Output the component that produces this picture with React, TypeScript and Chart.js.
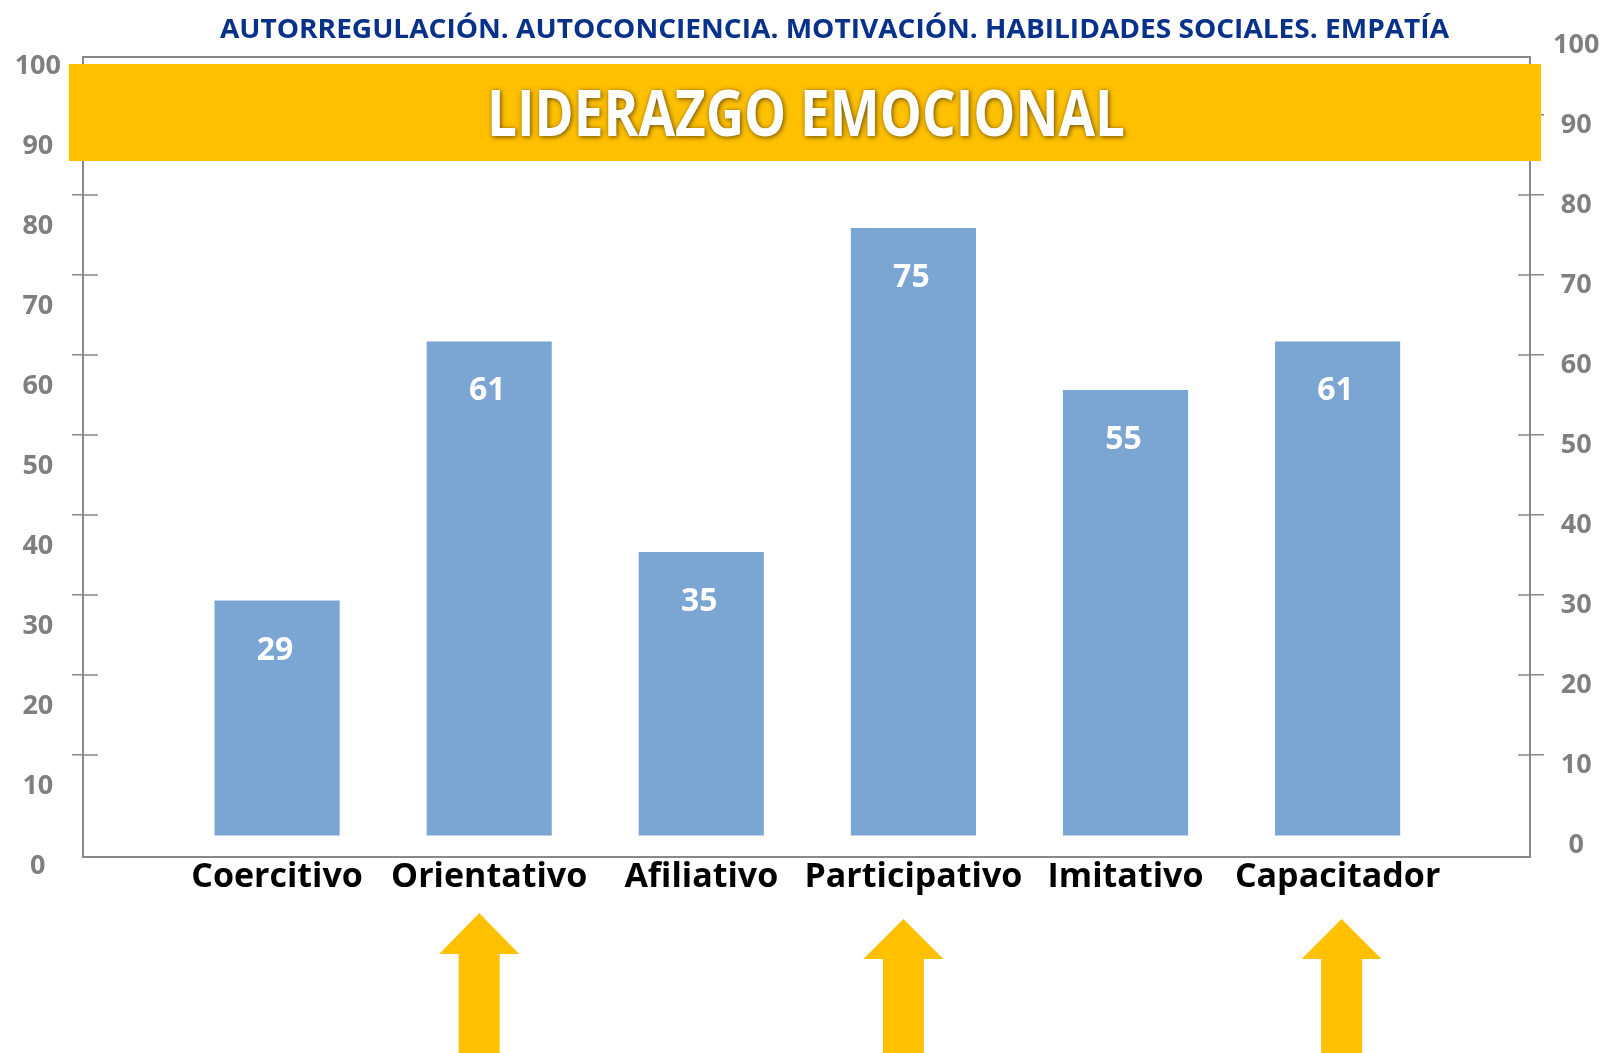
import React, { useEffect, useRef } from "react";
import { Chart, registerables } from "chart.js";

Chart.register(...registerables);

// ---------- data ----------
const categories = ["Coercitivo", "Orientativo", "Afiliativo", "Participativo", "Imitativo", "Capacitador"];
const values = [29, 61, 35, 75, 55, 61];
const axisTickValues = [0, 10, 20, 30, 40, 50, 60, 70, 80, 90, 100];
const headerText = "AUTORREGULACIÓN. AUTOCONCIENCIA. MOTIVACIÓN. HABILIDADES SOCIALES. EMPATÍA";
const bannerText = "LIDERAZGO EMOCIONAL";
const highlighted = ["Orientativo", "Participativo", "Capacitador"];

// ---------- styles / layout ----------
const W = 1603;
const H = 1053;
const FONT = '"Open Sans", "Liberation Sans", sans-serif';
const BAR_COLOR = "#7BA5D3";
const AXIS_COLOR = "#898989";
const TICK_LABEL_COLOR = "#7F7F7F";
const ORANGE = "#FFC000";
const TITLE_COLOR = "#08318A";

const arrowStyle = [
  { dx: -10, tipY: 913, headH: 41 },
  { dx: -10, tipY: 919, headH: 40 },
  { dx: 4, tipY: 919, headH: 40 },
];

function drawFittedText(
  ctx: CanvasRenderingContext2D,
  text: string,
  cx: number,
  baseline: number,
  targetWidth: number
) {
  const w = ctx.measureText(text).width;
  const sx = targetWidth / w;
  ctx.save();
  ctx.translate(cx, baseline);
  ctx.scale(sx, 1);
  ctx.textAlign = "center";
  ctx.textBaseline = "alphabetic";
  ctx.fillText(text, 0, 0);
  ctx.restore();
}

const decorPlugin = {
  id: "decor",
  afterDatasetsDraw(chart: any) {
    const ctx: CanvasRenderingContext2D = chart.ctx;
    const meta = chart.getDatasetMeta(0);
    ctx.save();
    ctx.font = `bold 32px ${FONT}`;
    ctx.fillStyle = "#FFFFFF";
    ctx.textAlign = "center";
    ctx.textBaseline = "alphabetic";
    meta.data.forEach((el: any, i: number) => {
      ctx.fillText(String(values[i]), el.x - 2, el.y + 59);
    });
    ctx.restore();
  },
  afterDraw(chart: any) {
    const ctx: CanvasRenderingContext2D = chart.ctx;
    const area = chart.chartArea;
    const yL = chart.scales.y;
    const yR = chart.scales.yRight;
    const x = chart.scales.x;

    // inner halves of the cross tick marks
    ctx.save();
    ctx.strokeStyle = AXIS_COLOR;
    ctx.lineWidth = 1.5;
    axisTickValues.forEach((v) => {
      if (v === 0 || v === 100) return;
      const pl = yL.getPixelForValue(v);
      ctx.beginPath();
      ctx.moveTo(area.left, pl);
      ctx.lineTo(area.left + 15, pl);
      ctx.stroke();
      const pr = yR.getPixelForValue(v);
      ctx.beginPath();
      ctx.moveTo(area.right - 12, pr);
      ctx.lineTo(area.right, pr);
      ctx.stroke();
    });
    ctx.restore();

    // orange banner
    ctx.save();
    ctx.fillStyle = ORANGE;
    ctx.fillRect(69, 64, 1472, 97);
    ctx.font = `bold 64px ${FONT}`;
    ctx.fillStyle = "#FFFFFF";
    ctx.shadowColor = "rgba(70, 50, 0, 0.85)";
    ctx.shadowBlur = 5;
    ctx.shadowOffsetX = 1;
    ctx.shadowOffsetY = 1;
    drawFittedText(ctx, bannerText, 806, 136, 638);
    ctx.restore();

    // header
    ctx.save();
    ctx.font = `bold 27px ${FONT}`;
    ctx.fillStyle = TITLE_COLOR;
    drawFittedText(ctx, headerText, 834.5, 38, 1229);
    ctx.restore();

    // arrows
    ctx.save();
    ctx.fillStyle = ORANGE;
    highlighted.forEach((name, k) => {
      const s = arrowStyle[k];
      const cx = x.getPixelForValue(categories.indexOf(name)) + s.dx;
      const baseY = s.tipY + s.headH;
      ctx.beginPath();
      ctx.moveTo(cx, s.tipY);
      ctx.lineTo(cx + 40, baseY);
      ctx.lineTo(cx + 20.5, baseY);
      ctx.lineTo(cx + 20.5, H);
      ctx.lineTo(cx - 20.5, H);
      ctx.lineTo(cx - 20.5, baseY);
      ctx.lineTo(cx - 40, baseY);
      ctx.closePath();
      ctx.fill();
    });
    ctx.restore();
  },
};

const hideEnds = (c: any) =>
  c.tick && (c.tick.value === 0 || c.tick.value === 100) ? "rgba(0,0,0,0)" : AXIS_COLOR;

export default function App() {
  const ref = useRef<HTMLCanvasElement | null>(null);

  useEffect(() => {
    if (!ref.current) return;
    const chart = new Chart(ref.current, {
      type: "bar",
      data: {
        datasets: [
          {
            data: values.map((v, i) => ({ x: i, y: v })),
            backgroundColor: BAR_COLOR,
            borderWidth: 0,
            xAxisID: "x",
            yAxisID: "yBar",
            categoryPercentage: 0.59,
            barPercentage: 1,
          } as any,
        ],
      },
      options: {
        animation: false,
        responsive: false,
        maintainAspectRatio: false,
        layout: { padding: { top: 57, left: 0, right: 0, bottom: 0 } },
        plugins: {
          legend: { display: false },
          title: { display: false },
          tooltip: { enabled: false },
        },
        scales: {
          x: {
            type: "linear",
            position: "bottom",
            offset: false,
            min: -0.915,
            max: 5.907,
            afterBuildTicks: (s: any) => {
              s.ticks = categories.map((_, i) => ({ value: i }));
            },
            afterFit: (s: any) => {
              s.height = 196;
            },
            grid: { display: false, drawTicks: false, offset: false },
            border: { display: true, color: AXIS_COLOR, width: 2 },
            ticks: {
              autoSkip: false,
              maxRotation: 0,
              minRotation: 0,
              padding: 0,
              color: "#000000",
              font: { family: FONT, size: 34, weight: "bold" },
              callback: (v: any) => categories[v] ?? "",
            },
          },
          xTop: {
            type: "linear",
            position: "top",
            offset: false,
            min: 0,
            max: 1,
            afterFit: (s: any) => {
              s.height = 0;
            },
            grid: { display: false, drawTicks: false },
            border: { display: true, color: AXIS_COLOR, width: 2 },
            ticks: { display: false },
          },
          yBar: {
            type: "linear",
            position: "left",
            display: false,
            min: -2.654,
            max: 96.11,
          },
          y: {
            type: "linear",
            position: "left",
            min: -2.75,
            max: 97.25,
            afterBuildTicks: (s: any) => {
              s.ticks = axisTickValues.map((v) => ({ value: v }));
            },
            afterFit: (s: any) => {
              s.width = 83;
            },
            grid: {
              display: true,
              drawOnChartArea: false,
              drawTicks: true,
              tickLength: 11,
              lineWidth: 1.5,
              color: hideEnds,
            },
            border: { display: true, color: AXIS_COLOR, width: 2 },
            ticks: {
              autoSkip: false,
              crossAlign: "center",
              padding: 11,
              labelOffset: 31,
              color: TICK_LABEL_COLOR,
              font: { family: FONT, size: 27, weight: "bold" },
              callback: (v: any) => String(v),
            },
          },
          yRight: {
            type: "linear",
            position: "right",
            min: -2.75,
            max: 97.25,
            afterBuildTicks: (s: any) => {
              s.ticks = axisTickValues.map((v) => ({ value: v }));
            },
            afterFit: (s: any) => {
              s.width = 73;
            },
            grid: {
              display: true,
              drawOnChartArea: false,
              drawTicks: true,
              tickLength: 14,
              lineWidth: 1.5,
              color: hideEnds,
            },
            border: { display: true, color: AXIS_COLOR, width: 2 },
            ticks: {
              autoSkip: false,
              crossAlign: "center",
              padding: 9,
              labelOffset: 10,
              color: TICK_LABEL_COLOR,
              font: { family: FONT, size: 27, weight: "bold" },
              callback: (v: any) => String(v),
            },
          },
        } as any,
      },
      plugins: [decorPlugin],
    });

    let alive = true;
    if ((document as any).fonts && (document as any).fonts.load) {
      Promise.all([
        (document as any).fonts.load(`bold 34px "Open Sans"`),
      ]).then(() => {
        if (alive) chart.update();
      }).catch(() => {});
    }

    return () => {
      alive = false;
      chart.destroy();
    };
  }, []);

  return (
    <div
      style={{
        position: "fixed",
        left: 0,
        top: 0,
        width: W,
        height: H,
        background: "#FFFFFF",
        overflow: "hidden",
      }}
    >
      <canvas ref={ref} width={W} height={H} style={{ display: "block", width: W, height: H }} />
    </div>
  );
}
